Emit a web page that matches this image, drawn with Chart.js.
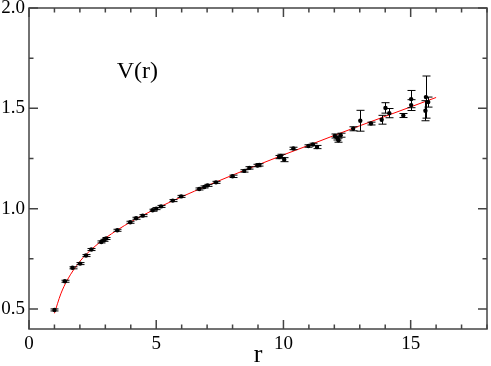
<!DOCTYPE html>
<html>
<head>
<meta charset="utf-8">
<script src="https://cdn.jsdelivr.net/npm/chart.js@4.4.1/dist/chart.umd.min.js"></script>
<style>
  html, body { margin: 0; padding: 0; background: #fff; }
  #wrap { width: 491px; height: 366px; }
</style>
</head>
<body>
<div id="wrap"><canvas id="potChart"></canvas></div>
<script>
// lattice data: distance r, potential V(r), error
const rValues = [1.0, 1.41, 1.71, 2.01, 2.24, 2.45, 2.84, 2.94, 3.03, 3.47, 3.98, 4.21, 4.47, 4.86, 5.0, 5.19,
    5.65, 5.98, 6.69, 6.89, 7.02, 7.35, 8.0, 8.46, 8.66, 8.98, 9.05, 9.83, 9.9, 10.03, 10.39, 10.98, 11.16,
    11.32, 12.02, 12.12, 12.16, 12.25, 12.74, 13.02, 13.44, 13.86, 14.01, 14.16, 14.71, 15.02, 15.02, 15.6,
    15.58, 15.69];
const vValues = [0.495, 0.638, 0.705, 0.726, 0.766, 0.796, 0.834, 0.842, 0.851, 0.892, 0.932, 0.952, 0.965,
    0.992, 1.0, 1.011, 1.04, 1.061, 1.098, 1.108, 1.116, 1.131, 1.161, 1.188, 1.203, 1.215, 1.218, 1.257,
    1.263, 1.244, 1.3, 1.312, 1.32, 1.307, 1.362, 1.352, 1.341, 1.366, 1.398, 1.438, 1.424, 1.443, 1.502,
    1.476, 1.464, 1.546, 1.516, 1.556, 1.488, 1.531];
const vErrors = [0.005, 0.005, 0.005, 0.005, 0.005, 0.005, 0.005, 0.005, 0.005, 0.005, 0.005, 0.005, 0.005,
    0.005, 0.005, 0.005, 0.005, 0.005, 0.005, 0.005, 0.005, 0.005, 0.006, 0.006, 0.006, 0.006, 0.006, 0.008,
    0.008, 0.01, 0.006, 0.006, 0.006, 0.008, 0.01, 0.01, 0.01, 0.01, 0.01, 0.052, 0.007, 0.022, 0.026,
    0.023, 0.01, 0.043, 0.027, 0.105, 0.05, 0.025];

// fitted curve
const fitR = [1.0, 1.25, 1.5, 2.0, 2.5, 3.0, 4.0, 5.0, 6.0, 7.0, 8.0, 9.0, 10.0, 11.0, 12.0, 13.0, 14.0, 15.0, 16.0];
const fitV = [0.478, 0.575, 0.643, 0.737, 0.802, 0.853, 0.934, 1.0, 1.059, 1.114, 1.167, 1.218, 1.268, 1.316,
    1.365, 1.413, 1.46, 1.507, 1.554];

const xTicks = [0, 5, 10, 15];
const yTicks = [0.5, 1.0, 1.5, 2.0];

const serif = 'Liberation Serif';

// frame, inward ticks, error bars and the V(r) label
const framePlugin = {
    id: 'frame',
    afterDatasetsDraw(chart) {
        const ctx = chart.ctx;
        const a = chart.chartArea;
        const xs = chart.scales.x;
        const ys = chart.scales.y;

        // error bars
        ctx.save();
        ctx.strokeStyle = '#000';
        ctx.lineWidth = 1;
        rValues.forEach((r, i) => {
            const px = Math.round(xs.getPixelForValue(r)) + 0.5;
            const top = ys.getPixelForValue(vValues[i] + vErrors[i]);
            const bot = ys.getPixelForValue(vValues[i] - vErrors[i]);
            ctx.beginPath();
            ctx.moveTo(px, top); ctx.lineTo(px, bot);
            ctx.moveTo(px - 4, top); ctx.lineTo(px + 4, top);
            ctx.moveTo(px - 4, bot); ctx.lineTo(px + 4, bot);
            ctx.stroke();
        });
        ctx.restore();

        ctx.save();
        ctx.strokeStyle = '#444';
        ctx.lineWidth = 1.5;
        ctx.strokeRect(a.left, a.top, a.right - a.left, a.bottom - a.top);

        ctx.beginPath();
        for (let v = 0; v <= 18; v += 1) {
            const px = xs.getPixelForValue(v);
            const len = v % 5 === 0 ? 9 : 4.5;
            ctx.moveTo(px, a.bottom); ctx.lineTo(px, a.bottom - len);
            ctx.moveTo(px, a.top); ctx.lineTo(px, a.top + len);
        }
        for (let v = 0.5; v <= 2.0001; v += 0.25) {
            const py = ys.getPixelForValue(v);
            const len = Math.abs(v * 2 - Math.round(v * 2)) < 1e-6 ? 9 : 4.5;
            ctx.moveTo(a.left, py); ctx.lineTo(a.left + len, py);
            ctx.moveTo(a.right, py); ctx.lineTo(a.right - len, py);
        }
        ctx.stroke();

        ctx.fillStyle = '#000';
        ctx.font = '24px "' + serif + '"';
        ctx.textBaseline = 'alphabetic';
        ctx.fillText('V(r)', xs.getPixelForValue(3.45), ys.getPixelForValue(1.652));
        ctx.restore();
    }
};

document.addEventListener('DOMContentLoaded', function() {
    const ctx = document.getElementById('potChart').getContext('2d');

    new Chart(ctx, {
        data: {
            datasets: [{
                type: 'line',
                data: fitR.map((r, i) => ({ x: r, y: fitV[i] })),
                borderColor: '#ff0000',
                borderWidth: 1,
                pointRadius: 0,
                cubicInterpolationMode: 'monotone',
                fill: false,
                order: 2
            }, {
                type: 'scatter',
                data: rValues.map((r, i) => ({ x: r, y: vValues[i] })),
                backgroundColor: '#000',
                borderColor: '#000',
                pointRadius: 2.2,
                borderWidth: 0,
                order: 1
            }]
        },
        options: {
            responsive: true,
            maintainAspectRatio: false,
            animation: false,
            events: [],
            layout: { padding: { top: 8, right: 2, left: 0, bottom: 0 } },
            plugins: {
                legend: { display: false },
                tooltip: { enabled: false }
            },
            scales: {
                x: {
                    type: 'linear',
                    min: 0,
                    max: 18,
                    grid: { display: false, drawTicks: false },
                    border: { display: false },
                    afterBuildTicks: s => { s.ticks = xTicks.map(v => ({ value: v })); },
                    afterFit: s => { s.height = 37; },
                    ticks: {
                        padding: 4,
                        color: '#000',
                        maxRotation: 0,
                        font: { family: serif, size: 19 },
                        callback: v => String(v)
                    },
                    title: {
                        display: true,
                        text: 'r',
                        color: '#000',
                        padding: 0,
                        font: { family: serif, size: 26, lineHeight: 0.8 }
                    }
                },
                y: {
                    type: 'linear',
                    min: 0.4,
                    max: 2.0,
                    grid: { display: false, drawTicks: false },
                    border: { display: false },
                    afterBuildTicks: s => { s.ticks = yTicks.map(v => ({ value: v })); },
                    afterFit: s => { s.width = 29; s.paddingTop = 0; s.paddingBottom = 0; },
                    ticks: {
                        padding: 4,
                        color: '#000',
                        font: { family: serif, size: 19 },
                        callback: v => Number(v).toFixed(1)
                    }
                }
            }
        },
        plugins: [framePlugin]
    });
});
</script>
</body>
</html>
